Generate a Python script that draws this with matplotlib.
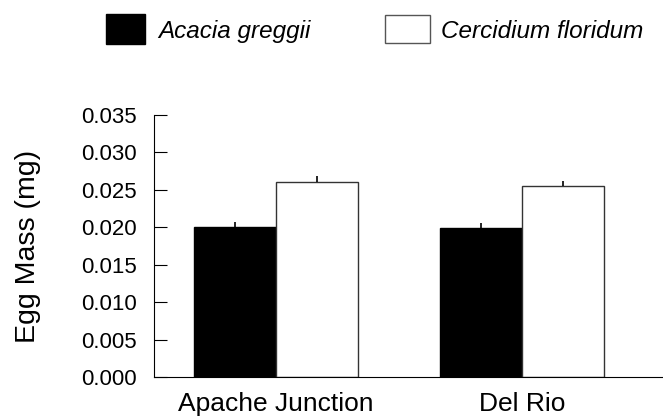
import matplotlib
matplotlib.use("Agg")
import matplotlib.pyplot as plt
from matplotlib.patches import Rectangle

sites = ["Apache Junction", "Del Rio"]
acacia = [0.0200, 0.0199]
acacia_err = [0.0007, 0.0007]
cercidium = [0.0260, 0.0255]
cercidium_err = [0.0009, 0.0007]
series_names = ["Acacia greggii", "Cercidium floridum"]
yticks = [0.000, 0.005, 0.010, 0.015, 0.020, 0.025, 0.030, 0.035]

plt.rcParams['font.family'] = ['Liberation Sans', 'DejaVu Sans']
fig = plt.figure(figsize=(6.63, 4.2), dpi=100)
ax = fig.add_axes([0.232, 0.1024, 0.768, 0.624])

w = 0.333
x = [0, 1]
ax.bar([xi - w/2 for xi in x], acacia, width=w, color='black', edgecolor='black', linewidth=1)
ax.bar([xi + w/2 for xi in x], cercidium, width=w, color='white', edgecolor='#333333', linewidth=1)
ax.errorbar([xi - w/2 for xi in x], acacia, yerr=[[0, 0], acacia_err], fmt='none', ecolor='black', elinewidth=1.2, capsize=0)
ax.errorbar([xi + w/2 for xi in x], cercidium, yerr=[[0, 0], cercidium_err], fmt='none', ecolor='black', elinewidth=1.2, capsize=0)

ax.set_xlim(-0.496, 1.573)
ax.set_ylim(0, 0.035)
ax.set_yticks(yticks)
ax.set_yticklabels([f"{v:.3f}" for v in yticks], fontsize=16)
ax.set_xticks(x)
ax.set_xticklabels(sites, fontsize=19)
ax.tick_params(axis='x', length=0, pad=11)
ax.tick_params(axis='y', direction='in', length=9, pad=12)
ax.spines['top'].set_visible(False)
ax.spines['right'].set_visible(False)
ax.set_ylabel("Egg Mass (mg)", fontsize=20.5, labelpad=29)

# legend
fig.patches.append(Rectangle((106/663, 1 - 44/420), 39/663, 30/420, transform=fig.transFigure,
                             facecolor='black', edgecolor='black'))
fig.text(158/663, 1 - 38/420, series_names[0], fontsize=17.5, style='italic', va='baseline')
fig.patches.append(Rectangle((385/663, 1 - 43/420), 45/663, 28/420, transform=fig.transFigure,
                             facecolor='white', edgecolor='#555555', linewidth=1))
fig.text(441/663, 1 - 38/420, series_names[1], fontsize=17.5, style='italic', va='baseline')

fig.savefig("out.png", dpi=100)
